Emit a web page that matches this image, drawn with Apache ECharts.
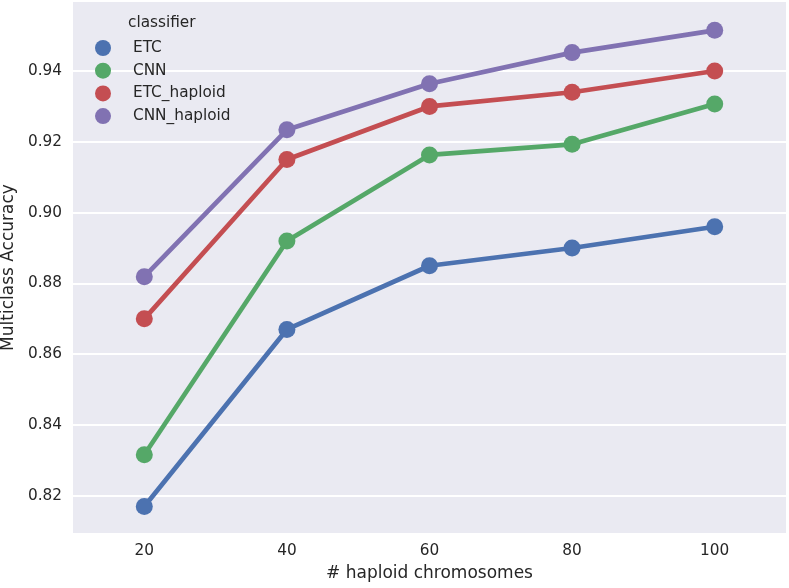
<!DOCTYPE html>
<html><head><meta charset="utf-8">
<script src="https://cdn.jsdelivr.net/npm/echarts@6/dist/echarts.min.js"></script>
<style>html,body{margin:0;padding:0;background:#fff}#c{width:789px;height:588px}</style>
</head><body><div id="c"></div>
<script>
const categories = ['20', '40', '60', '80', '100'];
const yTicks = [0.82, 0.84, 0.86, 0.88, 0.90, 0.92, 0.94];
const seriesNames = ['ETC', 'CNN', 'ETC_haploid', 'CNN_haploid'];
const etc = [0.817, 0.867, 0.885, 0.890, 0.896];
const cnn = [0.8316, 0.892, 0.9163, 0.9193, 0.9307];
const etcHaploid = [0.870, 0.915, 0.930, 0.934, 0.940];
const cnnHaploid = [0.8819, 0.9234, 0.9364, 0.9452, 0.9515];
const colors = ['#4C72B0', '#55A868', '#C44E52', '#8172B2'];
const seriesData = [etc, cnn, etcHaploid, cnnHaploid];

const FONT = 'DejaVu Sans';
const chart = echarts.init(document.getElementById('c'), null, {renderer: 'canvas'});
chart.setOption({
  animation: false,
  textStyle: {fontFamily: FONT},
  grid: {left: 73, right: 3, top: 2, bottom: 55, show: true, backgroundColor: '#EAEAF2', borderWidth: 0,
    containLabel: false, outerBoundsMode: 'none'},
  graphic: [{
    type: 'text', left: 128, top: 16,
    style: {text: 'classifier', font: '15.3px "DejaVu Sans"', fill: '#262626'}
  }],
  legend: {
    orient: 'vertical', left: 95, top: 40, padding: 0,
    itemWidth: 16, itemHeight: 16, itemGap: 6.7,
    icon: 'circle',
    data: seriesNames,
    textStyle: {fontFamily: FONT, fontSize: 15.3, color: '#262626', padding: [0, 0, 0, 17], lineHeight: 16}
  },
  xAxis: {
    type: 'category', data: categories, boundaryGap: true,
    axisLine: {show: false}, axisTick: {show: false},
    splitLine: {show: false},
    axisLabel: {fontFamily: FONT, fontSize: 15.3, color: '#262626', margin: 11},
    name: '# haploid chromosomes', nameLocation: 'middle', nameGap: 32,
    nameTextStyle: {fontFamily: FONT, fontSize: 17, color: '#262626'}
  },
  yAxis: {
    type: 'value', min: 0.8095, max: 0.9595,
    axisLine: {show: false},
    axisTick: {show: false, customValues: yTicks},
    axisLabel: {fontFamily: FONT, fontSize: 15.3, color: '#262626', margin: 11,
      customValues: yTicks, formatter: v => v.toFixed(2)},
    splitLine: {show: true, lineStyle: {color: '#ffffff', width: 1.8}},
    name: 'Multiclass Accuracy', nameLocation: 'middle', nameGap: 55,
    nameTextStyle: {fontFamily: FONT, fontSize: 17, color: '#262626'}
  },
  series: seriesNames.map((n, i) => ({
    name: n, type: 'line', data: seriesData[i],
    color: colors[i],
    symbol: 'circle', symbolSize: 17, showSymbol: true,
    lineStyle: {width: 4.7, color: colors[i]},
    itemStyle: {color: colors[i]},
    z: 2 + i
  }))
});
</script></body></html>
